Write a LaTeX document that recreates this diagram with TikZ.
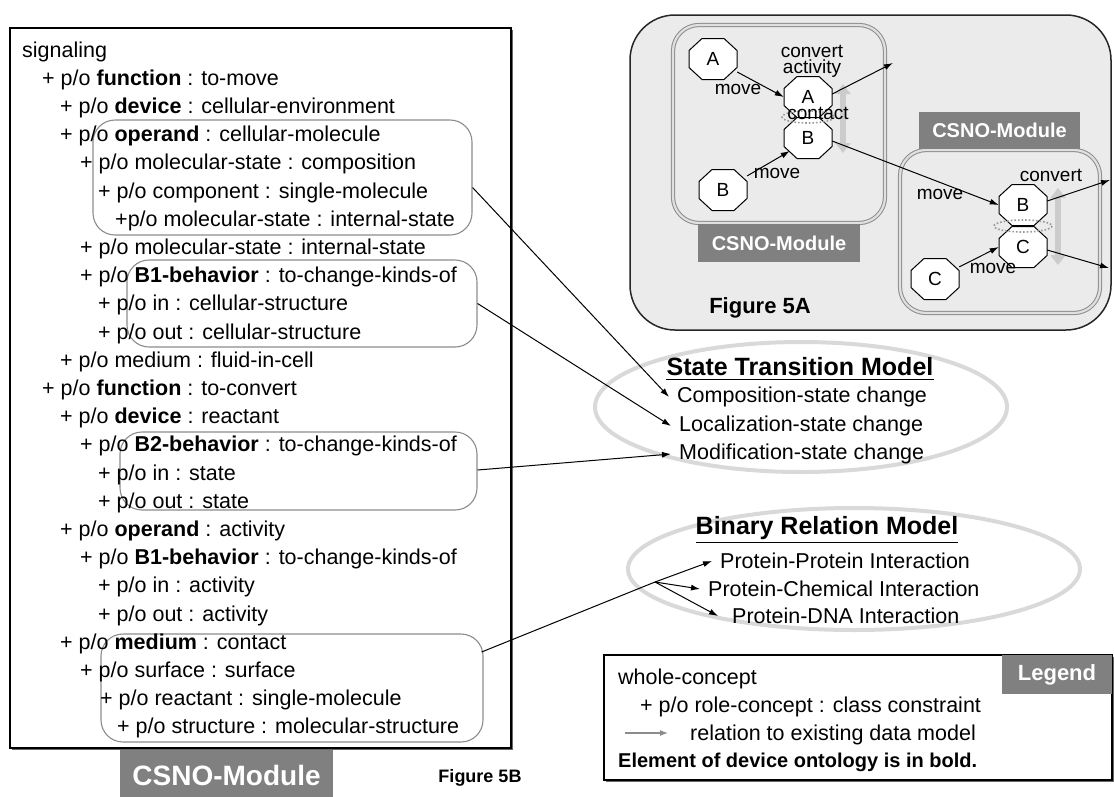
\documentclass[tikz,border=0pt]{standalone}
\usepackage{fontspec}
\setmainfont{Liberation Sans}
\usetikzlibrary{arrows.meta,calc}

\tikzset{
  every node/.style={font=\fontsize{21.5}{24}\selectfont, inner sep=0pt},
  row/.style={anchor=base west},
  callout/.style={draw=black!45, line width=1.1pt, rounded corners=22pt, minimum width=#1},
  link/.style={draw=black, line width=1pt, -{Latex[length=9pt,width=6pt]}},
  model/.style={draw=black!15, line width=4pt},
  tag/.style={fill=black!50, text=white, font=\bfseries\fontsize{20}{24}\selectfont},
  octo/.style={draw=black, fill=white, line width=1pt},
  mol/.style={minimum width=48pt, minimum height=41pt, font=\fontsize{19}{22}\selectfont},
  lbl/.style={font=\fontsize{19}{16}\selectfont, align=center},
  module/.style={draw=black!45, double=black!12, line width=1pt, double distance=2.2pt, rounded corners=26pt},
  squeeze/.style={draw=black!20, line width=6pt, -{Triangle[width=15pt,length=10pt]}},
  contactring/.style={draw=black!40, dotted, line width=1.6pt},
  item/.style={anchor=west, inner xsep=8pt},
}

% octagonal outline of a molecule, centred on a named coordinate
\newcommand{\molshape}[1]{%
  \draw[octo] ($(#1)+(-11,-20.5)$) -- ($(#1)+(11,-20.5)$) -- ($(#1)+(24,-8.5)$)
    -- ($(#1)+(24,8.5)$) -- ($(#1)+(11,20.5)$) -- ($(#1)+(-11,20.5)$)
    -- ($(#1)+(-24,8.5)$) -- ($(#1)+(-24,-8.5)$) -- cycle;}

\begin{document}
\begin{tikzpicture}[x=1pt,y=-1pt]
\useasboundingbox (0,0) rectangle (1114,796);

% ---------------- Figure 5B: the ontology listing ----------------
\fill[black!60] (12,30) rectangle (513,750);
\draw[fill=white, line width=1.2pt] (10,28) rectangle (511,748);

\node[callout=379pt, minimum height=115pt] (c1) at (282.5,177.5) {};
\node[callout=350pt, minimum height=87pt]  (c2) at (302,303.5) {};
\node[callout=357pt, minimum height=78pt]  (c3) at (298.5,471) {};
\node[callout=382pt, minimum height=108pt] (c4) at (292,688) {};

\node[row] (l0)  at (22,57)    {signaling};
\node[row] (l1)  at (42,85.2)  {+ p/o \textbf{function} : to-move};
\node[row] (l2)  at (60,113.4) {+ p/o \textbf{device} : cellular-environment};
\node[row] (l3)  at (60,141.6) {+ p/o \textbf{operand} : cellular-molecule};
\node[row] (l4)  at (80,169.8) {+ p/o molecular-state : composition};
\node[row] (l5)  at (98,198)   {+ p/o component : single-molecule};
\node[row] (l6)  at (115,226.2){+p/o molecular-state : internal-state};
\node[row] (l7)  at (80,254.4) {+ p/o molecular-state : internal-state};
\node[row] (l8)  at (80,282.6) {+ p/o \textbf{B1-behavior} : to-change-kinds-of};
\node[row] (l9)  at (98,310.8) {+ p/o in : cellular-structure};
\node[row] (l10) at (98,339)   {+ p/o out : cellular-structure};
\node[row] (l11) at (60,367.2) {+ p/o medium : fluid-in-cell};
\node[row] (l12) at (42,395.4) {+ p/o \textbf{function} : to-convert};
\node[row] (l13) at (60,423.6) {+ p/o \textbf{device} : reactant};
\node[row] (l14) at (80,451.8) {+ p/o \textbf{B2-behavior} : to-change-kinds-of};
\node[row] (l15) at (98,480)   {+ p/o in : state};
\node[row] (l16) at (98,508.2) {+ p/o out : state};
\node[row] (l17) at (60,536.4) {+ p/o \textbf{operand} : activity};
\node[row] (l18) at (80,564.6) {+ p/o \textbf{B1-behavior} : to-change-kinds-of};
\node[row] (l19) at (98,592.8) {+ p/o in : activity};
\node[row] (l20) at (98,621)   {+ p/o out : activity};
\node[row] (l21) at (60,649.2) {+ p/o \textbf{medium} : contact};
\node[row] (l22) at (80,677.4) {+ p/o surface : surface};
\node[row] (l23) at (100,705.6){+ p/o reactant : single-molecule};
\node[row] (l24) at (117,733.8){+ p/o structure : molecular-structure};

\node[tag, minimum width=213pt, minimum height=50pt, font=\bfseries\fontsize{28}{32}\selectfont]
  (modB) at (226.5,775) {CSNO-Module};
\node[font=\bfseries\fontsize{18}{20}\selectfont] (figB) at (480,778) {Figure 5B};

% ---------------- Figure 5A: module scheme ----------------
\draw[fill=black!8, draw=black!85, line width=1.5pt, rounded corners=45pt] (630,15) rectangle (1111,330);

\draw[module] (673,25) rectangle (885,223);
\draw[module] (900,150) rectangle (1100,313);
\node[tag, minimum width=162pt, minimum height=38pt] (tagL) at (779,243) {CSNO-Module};
\node[tag, minimum width=161pt, minimum height=37pt] (tagR) at (999.5,130.5) {CSNO-Module};

\draw[squeeze] (843,118) -- (843,84);
\draw[squeeze] (843,118) -- (843,153);
\draw[squeeze] (1058,226) -- (1058,188);
\draw[squeeze] (1058,226) -- (1058,265);

\coordinate (pA1) at (713,59);
\coordinate (pA2) at (808,97);
\coordinate (pB2) at (808,138);
\coordinate (pB1) at (723,190);
\coordinate (pB3) at (1023,205);
\coordinate (pC3) at (1023,247);
\coordinate (pC4) at (935,279);
\molshape{pA1} \molshape{pA2} \molshape{pB2} \molshape{pB1}
\molshape{pB3} \molshape{pC3} \molshape{pC4}

\node[mol] (A1) at (pA1) {A};
\node[mol] (A2) at (pA2) {A};
\node[mol] (B2) at (pB2) {B};
\node[mol] (B1) at (pB1) {B};
\node[mol] (B3) at (pB3) {B};
\node[mol] (C3) at (pC3) {C};
\node[mol] (C4) at (pC4) {C};

\draw[contactring] (808,117) ellipse [x radius=26, y radius=6];
\draw[contactring] (1023,226) ellipse [x radius=29, y radius=6];

\coordinate (o1) at (893,63);
\coordinate (o2) at (1110,180);
\coordinate (o3) at (1109,268);

\draw[link] (A1) -- (A2.west);
\draw[link] (B1) -- ($(B2.west)+(6,13)$);
\draw[link] ($(A2.east)+(0,-3)$) -- (o1);
\draw[link] ($(B2.east)+(0,3)$) -- (B3.west);
\draw[link] ($(B3.east)+(0,-4)$) -- (o2);
\draw[link] ($(C3.east)+(0,3)$) -- (o3);
\draw[link] (C4) -- (C3.west);

\node[lbl] (t1) at (812,61)  {convert\\activity};
\node[lbl] (t2) at (738,89)  {move};
\node[lbl] (t3) at (818,113) {contact};
\node[lbl] (t4) at (777,173) {move};
\node[lbl] (t5) at (940,194) {move};
\node[lbl] (t6) at (1051,175){convert};
\node[lbl] (t7) at (993,268) {move};

\node[font=\bfseries\fontsize{22}{24}\selectfont] (figA) at (760,308) {Figure 5A};

% ---------------- State transition model ----------------
\draw[model] (801,407) ellipse [x radius=206, y radius=65];
\node[font=\bfseries\fontsize{25}{28}\selectfont] (stm) at (800,367) {State Transition Model};
\draw[line width=1.2pt] ($(stm.south west)+(0,3)$) -- ($(stm.south east)+(0,3)$);
\node[item] (s1) at (669,397) {Composition-state change};
\node[item] (s2) at (671,426) {Localization-state change};
\node[item] (s3) at (671,454) {Modification-state change};

% ---------------- Binary relation model ----------------
\draw[model] (854,569) ellipse [x radius=226, y radius=61];
\node[font=\bfseries\fontsize{25}{28}\selectfont] (brm) at (827,528) {Binary Relation Model};
\draw[line width=1.2pt] ($(brm.south west)+(0,3)$) -- ($(brm.south east)+(0,3)$);
\node[item] (b1) at (712,561) {Protein-Protein Interaction};
\node[item] (b2) at (700,589) {Protein-Chemical Interaction};
\node[item, inner xsep=14pt] (b3) at (718,616) {Protein-DNA Interaction};

% ---------------- relations to existing data models ----------------
\draw[link] ($(c1.east)+(0,10)$) -- (s1.west);
\draw[link] (c2.east) -- (s2.west);
\draw[link] ($(c3.east)+(0,-1)$) -- (s3.west);
\coordinate (bp) at (655,582);
\draw[link] ($(c4.east)+(-2,-36)$) -- (bp) -- (b1.west);
\draw[link] (bp) -- (b2.west);
\draw[link] (bp) -- (b3.west);

% ---------------- legend ----------------
\fill[black!60] (606,657) rectangle (1114,782);
\draw[fill=white, line width=1.2pt] (604,655) rectangle (1112,780);
\node[tag, minimum width=110pt, minimum height=39pt, font=\bfseries\fontsize{22}{24}\selectfont] (leg) at (1057,674.5) {Legend};
\node[row] (g1) at (618,684) {whole-concept};
\node[row] (g2) at (640,712) {+ p/o role-concept : class constraint};
\coordinate (ga) at (625,733);
\coordinate (gb) at (668,733);
\draw[draw=black!45, line width=1.2pt, -{Latex[length=8pt,width=6pt]}] (ga) -- (gb);
\node[row] (g3) at (690,740) {relation to existing data model};
\node[row, font=\bfseries\fontsize{20}{24}\selectfont] (g4) at (618,767) {Element of device ontology is in bold.};

\end{tikzpicture}
\end{document}
